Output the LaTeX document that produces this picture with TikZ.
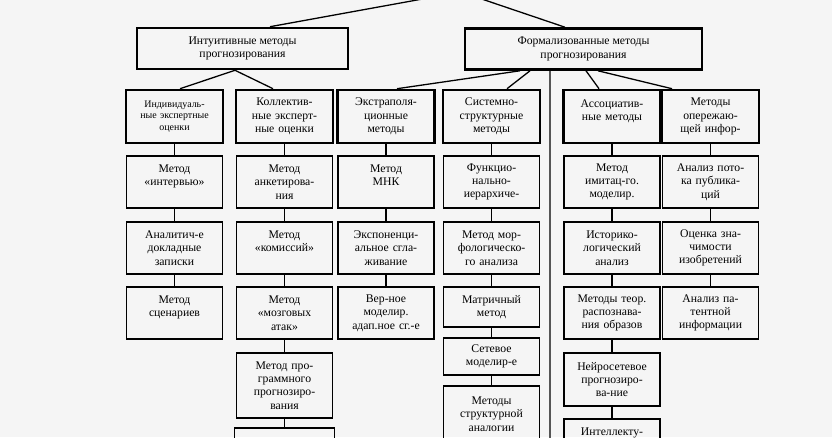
\documentclass[tikz,border=0pt]{standalone}
\usepackage{fontspec}
\setmainfont{Liberation Serif}
\usepackage{tikz}
\usetikzlibrary{shapes,arrows}
\tikzset{
  group/.style = {draw, line width=2.2pt, rectangle, align=center, minimum height=12.3mm},
  sort/.style  = {draw, line width=2.2pt, rectangle, align=center, text width=26mm, inner xsep=1mm, minimum width=29.1mm, minimum height=15.9mm},
  cell/.style  = {draw, line width=1.1pt, rectangle, align=center, text width=26mm, inner xsep=1mm, minimum width=28.8mm, minimum height=15.6mm},
  link/.style  = {line width=1.1pt}
}

\begin{document}
\begin{tikzpicture}[x=0.3mm, y=-0.3mm, font=\fontsize{10}{11.4}\selectfont]

\fill[black!4] (0,0) rectangle (832,437);
\clip (0,0) rectangle (832,437);

% Top level
\coordinate (root) at (461,-8);
\draw node [group, minimum width=63.3mm, name=intu] at (242.5,48.5) {Интуитивные методы\\прогнозирования};
\draw node [group, minimum width=71.1mm, name=form] at (583.5,49) {Формализованные методы\\прогнозирования};
\coordinate (trunk) at (550,445);

% Groups of methods
\draw node [sort, name=ind, font=\fontsize{8.5}{10}\selectfont] at (174.5,116.5) {Индивидуаль-\\ные экспертные\\оценки};
\draw node [sort, name=kol] at (284.5,116.5) {Коллектив-\\ные эксперт-\\ные оценки};
\draw node [sort, name=ext] at (386,116.5) {Экстраполя-\\ционные\\методы};
\draw node [sort, name=sys] at (491.5,116.5) {Системно-\\структурные\\методы};
\draw node [sort, name=asc] at (612,116.5) {Ассоциатив-\\ные методы\\~};
\draw node [sort, name=opr] at (710.5,116.5) {Методы\\опережаю-\\щей инфор-};

% Individual expert methods
\draw node [cell, name=ind1, below of=ind, node distance=19.65mm] {Метод\\«интервью»\\~};
\draw node [cell, name=ind2, below of=ind1, node distance=19.8mm] {Аналитич-е\\докладные\\записки};
\draw node [cell, name=ind3, below of=ind2, node distance=19.5mm] {Метод\\сценариев\\~};

% Collective expert methods
\draw node [cell, name=kol1, below of=kol, node distance=19.65mm] {Метод\\анкетирова-\\ния};
\draw node [cell, name=kol2, below of=kol1, node distance=19.8mm] {Метод\\«комиссий»\\~};
\draw node [cell, name=kol3, below of=kol2, node distance=19.5mm] {Метод\\«мозговых\\атак»};
\draw node [cell, name=kol4, below of=kol3, node distance=21.75mm, minimum height=19.5mm] {Метод про-\\граммного\\прогнозиро-\\вания};
\draw node [cell, name=kol5, below of=kol4, node distance=22.05mm, minimum height=18.6mm, minimum width=30mm] {};

% Extrapolation methods
\draw node [cell, name=ext1, below of=ext, node distance=19.65mm] {Метод\\МНК\\~};
\draw node [cell, name=ext2, below of=ext1, node distance=19.8mm] {Экспоненци-\\альное сгла-\\живание};
\draw node [cell, name=ext3, below of=ext2, node distance=19.5mm] {Вер-ное\\моделир.\\адап.ное сг.-е};

% System-structural methods
\draw node [cell, name=sys1, below of=sys, node distance=19.65mm] {Функцио-\\нально-\\иерархиче-};
\draw node [cell, name=sys2, below of=sys1, node distance=19.8mm] {Метод мор-\\фологическо-\\го анализа};
\draw node [cell, name=sys3, below of=sys2, node distance=17.7mm, minimum height=12mm] {Матричный\\метод};
\draw node [cell, name=sys4, below of=sys3, node distance=14.85mm, minimum height=11.1mm] {Сетевое\\моделир-е};
\draw node [cell, name=sys5, below of=sys4, node distance=17.25mm, minimum height=16.8mm] {Методы\\структурной\\аналогии};

% Associative methods
\draw node [cell, name=asc1, below of=asc, node distance=19.65mm] {Метод\\имитац-го.\\моделир.};
\draw node [cell, name=asc2, below of=asc1, node distance=19.8mm] {Историко-\\логический\\анализ};
\draw node [cell, name=asc3, below of=asc2, node distance=19.5mm] {Методы теор.\\распознава-\\ния образов};
\draw node [cell, name=asc4, below of=asc3, node distance=19.95mm, minimum height=15.9mm] {Нейросетевое\\прогнозиро-\\ва-ние};
\draw node [cell, name=asc5, below of=asc4, node distance=19.65mm] {Интеллекту-\\~\\~};

% Advance information methods
\draw node [cell, name=opr1, below of=opr, node distance=19.65mm] {Анализ пото-\\ка публика-\\ций};
\draw node [cell, name=opr2, below of=opr1, node distance=19.8mm] {Оценка зна-\\чимости\\изобретений};
\draw node [cell, name=opr3, below of=opr2, node distance=19.5mm] {Анализ па-\\тентной\\информации};

% Connections
\draw[link](root) -- ([xshift=8.25mm]intu.north);
\draw[link](root) -- ([xshift=-5.55mm]form.north);
\draw[link]([xshift=-2.25mm]intu.south) -- ([xshift=1.65mm]ind.north);
\draw[link]([xshift=-2.25mm]intu.south) -- ([xshift=-3.45mm]kol.north);
\draw[link]([xshift=-19.05mm]form.south) -- ([xshift=3.3mm]ext.north);
\draw[link]([xshift=-16.05mm]form.south) -- ([xshift=4.65mm]sys.north);
\draw[link]([xshift=0.75mm]form.south) -- ([xshift=-3.9mm]asc.north);
\draw[link]([xshift=4.35mm]form.south) -- ([xshift=-11.55mm]opr.north);
\draw[link]([xshift=-10.05mm]form.south) -- (trunk);
\draw[link](ind) -- (ind1);
\draw[link](ind1) -- (ind2);
\draw[link](ind2) -- (ind3);
\draw[link](kol) -- (kol1);
\draw[link](kol1) -- (kol2);
\draw[link](kol2) -- (kol3);
\draw[link](kol3) -- (kol4);
\draw[link](kol4) -- (kol5);
\draw[link](ext) -- (ext1);
\draw[link](ext1) -- (ext2);
\draw[link](ext2) -- (ext3);
\draw[link](sys) -- (sys1);
\draw[link](sys1) -- (sys2);
\draw[link](sys2) -- (sys3);
\draw[link](sys3) -- (sys4);
\draw[link](sys4) -- (sys5);
\draw[link](asc) -- (asc1);
\draw[link](asc1) -- (asc2);
\draw[link](asc2) -- (asc3);
\draw[link](asc3) -- (asc4);
\draw[link](asc4) -- (asc5);
\draw[link](opr) -- (opr1);
\draw[link](opr1) -- (opr2);
\draw[link](opr2) -- (opr3);

\end{tikzpicture}
\end{document}
